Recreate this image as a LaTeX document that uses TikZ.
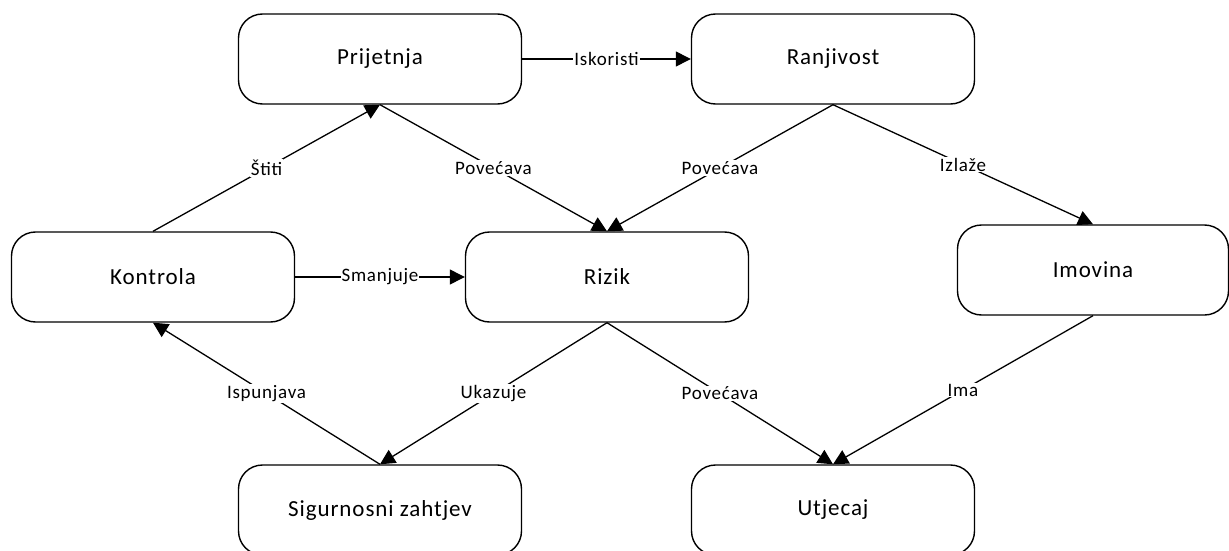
\documentclass[tikz,border=0pt]{standalone}
\usepackage{fontspec}
\setmainfont{Carlito}[LetterSpace=4]
\usetikzlibrary{arrows.meta}
\begin{document}
\begin{tikzpicture}[x=1pt,y=-1pt,
  box/.style={draw,line width=1.4pt,rounded corners=24pt,minimum width=283pt,minimum height=90pt,inner sep=0pt,font=\fontsize{23}{27}\selectfont},
  conn/.style={line width=1.3pt,-{Triangle[length=15pt,width=15pt]}},
  lbl/.style={midway,fill=white,inner sep=1pt,font=\fontsize{19}{22}\selectfont}]
\useasboundingbox (0,0) rectangle (1229,551);
\clip (0,0) rectangle (1229,551);
\node[box] (prij) at (380,59) {Prijetnja};
\node[box] (ranj) at (833,59) {Ranjivost};
\node[box] (kont) at (153,277) {Kontrola};
\node[box] (rizik) at (607,277) {Rizik};
\node[box,minimum width=271pt] (imov) at (1093,270) {Imovina};
\node[box] (sig) at (380,510) {Sigurnosni zahtjev};
\node[box] (utj) at (833,510) {Utjecaj};
\draw[conn] (prij.east) -- node[lbl]{Iskoristi} (ranj.west);
\draw[conn] (kont.north) -- node[lbl]{Štiti} (prij.south);
\draw[conn] (prij.south) -- node[lbl]{Povećava} (rizik.north);
\draw[conn] (ranj.south) -- node[lbl]{Povećava} (rizik.north);
\draw[conn] (ranj.south) -- node[lbl]{Izlaže} (imov.north);
\draw[conn] (kont.east) -- node[lbl]{Smanjuje} (rizik.west);
\draw[conn] (rizik.south) -- node[lbl]{Ukazuje} (sig.north);
\draw[conn] (sig.north) -- node[lbl]{Ispunjava} (kont.south);
\draw[conn] (rizik.south) -- node[lbl]{Povećava} (utj.north);
\draw[conn] (imov.south) -- node[lbl]{Ima} (utj.north);
\end{tikzpicture}
\end{document}
